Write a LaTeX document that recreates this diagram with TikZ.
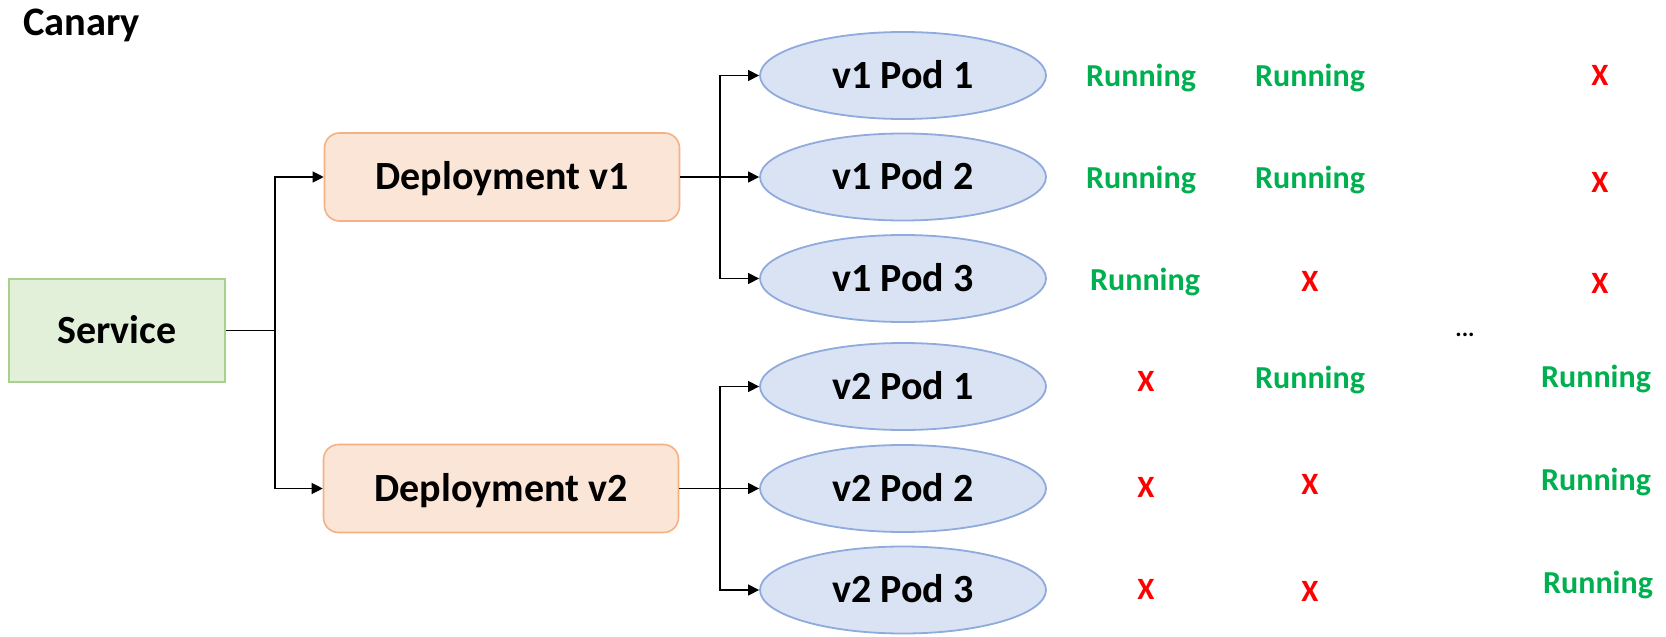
\documentclass[tikz,border=0pt]{standalone}
\usepackage{fontspec}
\setmainfont{Carlito}
\usetikzlibrary{shapes.geometric,arrows.meta}
\definecolor{svcfill}{HTML}{E2F0D9}
\definecolor{svcline}{HTML}{A9D18E}
\definecolor{depfill}{HTML}{FBE5D6}
\definecolor{depline}{HTML}{F4B183}
\definecolor{podfill}{HTML}{DAE3F3}
\definecolor{podline}{HTML}{8FAADC}
\definecolor{okgreen}{HTML}{00B050}
\definecolor{badred}{HTML}{FF0000}
\tikzset{
  bigtext/.style={font=\bfseries\fontsize{40}{48}\selectfont, text height=25.8pt, text depth=0pt, inner sep=0pt},
  svcbox/.style={bigtext, draw=svcline, fill=svcfill, line width=1.6pt, minimum width=216pt, minimum height=103pt},
  depbox/.style={bigtext, draw=depline, fill=depfill, line width=1.6pt, rounded corners=15pt, minimum width=355pt, minimum height=88pt},
  podbox/.style={bigtext, ellipse, draw=podline, fill=podfill, line width=1.8pt, minimum width=286pt, minimum height=87pt},
  conn/.style={draw=black, line width=1.2pt},
  arr/.style={conn, -{Triangle[length=11pt,width=11pt]}},
  run/.style={anchor=base, inner sep=0pt, text=okgreen, font=\bfseries\fontsize{32}{38}\selectfont},
  bad/.style={anchor=base, inner sep=0pt, text=badred, font=\bfseries\fontsize{31}{37}\selectfont},
}
\begin{document}
\begin{tikzpicture}[x=1pt,y=-1pt]
\useasboundingbox (0,0) rectangle (1666,637);
\node[anchor=base west, inner sep=0pt, font=\bfseries\fontsize{40.5}{48}\selectfont] (title) at (23,35) {Canary};

\node[svcbox] (svc) at (117,330.5) {Service};
\node[depbox] (d1) at (502,177) {Deployment v1};
\node[depbox] (d2) at (501,488.5) {Deployment v2};

\node[podbox] (p11) at (903,75.5) {v1 Pod 1};
\node[podbox] (p12) at (903,177) {v1 Pod 2};
\node[podbox] (p13) at (903,278.5) {v1 Pod 3};
\node[podbox] (p21) at (903,386.5) {v2 Pod 1};
\node[podbox] (p22) at (903,488.5) {v2 Pod 2};
\node[podbox] (p23) at (903,590) {v2 Pod 3};

\coordinate (sj) at (275,330.5);
\coordinate (j1) at (720,177);
\coordinate (j2) at (720,488.5);

\draw[conn] (svc.east) -- (sj);
\draw[arr] (sj) |- (d1.west);
\draw[arr] (sj) |- (d2.west);

\draw[conn] (d1.east) -- (j1);
\draw[arr] (j1) |- (p11.west);
\draw[arr] (j1) -- (p12.west);
\draw[arr] (j1) |- (p13.west);

\draw[conn] (d2.east) -- (j2);
\draw[arr] (j2) |- (p21.west);
\draw[arr] (j2) -- (p22.west);
\draw[arr] (j2) |- (p23.west);

% row 1
\node[run] (s11) at (1141,86) {Running};
\node[run] (s12) at (1310,86) {Running};
\node[bad] (s14) at (1600,85) {X};
% row 2
\node[run] (s21) at (1141,188) {Running};
\node[run] (s22) at (1310,188) {Running};
\node[bad] (s24) at (1600,192) {X};
% row 3
\node[run] (s31) at (1145,290) {Running};
\node[bad] (s32) at (1310,291) {X};
\node[bad] (s34) at (1600,293) {X};
% dots
\node[anchor=base, inner sep=0pt, font=\bfseries\fontsize{24}{28}\selectfont] (dots) at (1465,336) {...};
% row 4
\node[bad] (s41) at (1146,391) {X};
\node[run] (s42) at (1310,388) {Running};
\node[run] (s44) at (1596,387) {Running};
% row 5
\node[bad] (s51) at (1146,497) {X};
\node[bad] (s52) at (1310,494) {X};
\node[run] (s54) at (1596,490) {Running};
% row 6
\node[bad] (s61) at (1146,599) {X};
\node[bad] (s62) at (1310,601) {X};
\node[run] (s64) at (1598,593) {Running};
\end{tikzpicture}
\end{document}
